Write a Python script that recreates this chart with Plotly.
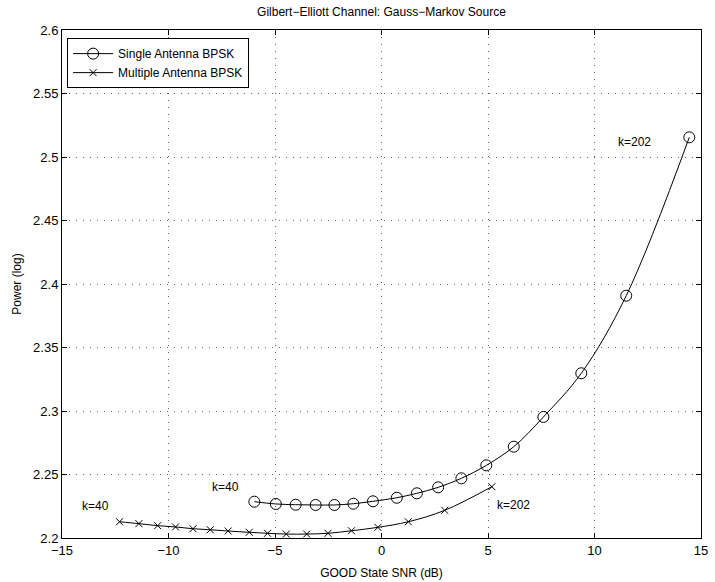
import plotly.graph_objects as go

# GOOD-state SNR (dB) and resulting power (log) for each scheme
snr_single = [-5.97, -4.96, -4.03, -3.09, -2.21, -1.32, -0.40, 0.72, 1.66, 2.66,
              3.75, 4.92, 6.21, 7.60, 9.38, 11.49, 14.45]
pow_single = [2.2286, 2.2268, 2.2262, 2.2260, 2.2260, 2.2270, 2.2289, 2.2317, 2.2352,
              2.2399, 2.2470, 2.2572, 2.2719, 2.2953, 2.3297, 2.3908, 2.5155]

snr_multi = [-12.30, -11.39, -10.51, -9.67, -8.85, -8.04, -7.20, -6.21, -5.35, -4.47,
             -3.51, -2.51, -1.41, -0.17, 1.26, 2.97, 5.18]
pow_multi = [2.2128, 2.2113, 2.2097, 2.2087, 2.2073, 2.2065, 2.2055, 2.2045, 2.2037,
             2.2031, 2.2031, 2.2037, 2.2057, 2.2084, 2.2128, 2.2218, 2.2404]

x_ticks = [-15, -10, -5, 0, 5, 10, 15]
y_ticks = [2.2, 2.25, 2.3, 2.35, 2.4, 2.45, 2.5, 2.55, 2.6]
y_tick_text = ["2.2", "2.25", "2.3", "2.35", "2.4", "2.45", "2.5", "2.55", "2.6"]

# text labels: (x, y, text)
k_labels = [
    (-7.33, 2.2404, "k=40"),
    (-13.42, 2.2252, "k=40"),
    (6.18, 2.2257, "k=202"),
    (11.9, 2.5115, "k=202"),
]

FONT = "Liberation Sans, Arial, Helvetica, sans-serif"

fig = go.Figure()
fig.add_trace(go.Scatter(
    x=snr_single, y=pow_single, mode="lines+markers", name="Single Antenna BPSK",
    line=dict(color="black", width=1, shape="spline"),
    marker=dict(symbol="circle-open", size=11, color="black", line=dict(width=1)),
))
fig.add_trace(go.Scatter(
    x=snr_multi, y=pow_multi, mode="lines+markers", name="Multiple Antenna BPSK",
    line=dict(color="black", width=1, shape="spline"),
    marker=dict(symbol="x-thin-open", size=7, color="black", line=dict(width=1, color="black")),
))

for x, y, t in k_labels:
    fig.add_annotation(x=x, y=y, text=t, showarrow=False,
                       font=dict(family=FONT, size=12, color="black"))

axis_common = dict(
    showline=True, linecolor="black", linewidth=1, mirror="ticks",
    ticks="inside", ticklen=5, tickcolor="black", tickwidth=1,
    showgrid=True, gridcolor="#606060", griddash="1px,6px", gridwidth=1,
    zeroline=False, tickfont=dict(family=FONT, size=13, color="black"),
    automargin=False,
)

fig.update_layout(
    width=715, height=582,
    margin=dict(l=62, r=14, t=30, b=44),
    paper_bgcolor="white", plot_bgcolor="white",
    font=dict(family=FONT, color="black"),
    title=dict(text="Gilbert\u2212Elliott Channel: Gauss\u2212Markov Source",
               x=(62 + 701) / 2 / 715, xanchor="center",
               y=1 - 12 / 582, yanchor="middle",
               font=dict(family=FONT, size=12, color="black")),
    xaxis=dict(range=[-15, 15], tickvals=x_ticks,
               ticktext=[str(v).replace("-", "\u2212") for v in x_ticks],
               title=dict(text="GOOD State SNR (dB)", font=dict(family=FONT, size=12), standoff=12),
               **axis_common),
    yaxis=dict(range=[2.2, 2.6], tickvals=y_ticks, ticktext=y_tick_text,
               title=dict(text="Power (log)", font=dict(family=FONT, size=12), standoff=8),
               **axis_common),
    legend=dict(x=0.008, y=0.984, xanchor="left", yanchor="top",
                bgcolor="white", bordercolor="black", borderwidth=1,
                font=dict(family=FONT, size=12, color="black"),
                tracegroupgap=0, itemwidth=40),
    showlegend=True,
)

fig.write_html("out.html")
